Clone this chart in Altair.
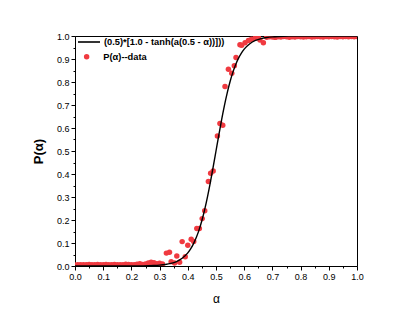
import altair as alt
import pandas as pd

# ---- data ----
low_alpha = [0.00, 0.01, 0.02, 0.03, 0.04, 0.05, 0.06, 0.07, 0.08, 0.09,
             0.10, 0.11, 0.12, 0.13, 0.14, 0.15, 0.16, 0.17, 0.18, 0.19,
             0.20, 0.21, 0.22, 0.23, 0.24, 0.25, 0.26, 0.27, 0.28, 0.29,
             0.30, 0.31]
low_p = [0.004, 0.005, 0.006, 0.005, 0.006, 0.007, 0.006, 0.005, 0.007, 0.006,
         0.006, 0.007, 0.006, 0.005, 0.007, 0.006, 0.005, 0.006, 0.008, 0.007,
         0.006, 0.005, 0.008, 0.010, 0.007, 0.009, 0.013, 0.016, 0.014, 0.010,
         0.012, 0.009]

mid_alpha = [0.324, 0.335, 0.341, 0.353, 0.361, 0.371, 0.380, 0.391, 0.400, 0.412,
             0.421, 0.432, 0.441, 0.451, 0.460, 0.473, 0.481, 0.490, 0.505, 0.514,
             0.524, 0.532, 0.544, 0.556, 0.565, 0.571, 0.585, 0.591, 0.603, 0.615,
             0.626, 0.638, 0.650, 0.656, 0.668]
mid_p = [0.056, 0.060, 0.019, 0.013, 0.043, 0.016, 0.106, 0.040, 0.090, 0.116,
         0.107, 0.163, 0.163, 0.206, 0.240, 0.367, 0.403, 0.413, 0.565, 0.620,
         0.612, 0.780, 0.855, 0.838, 0.871, 0.907, 0.962, 0.960, 0.971, 0.980,
         0.986, 0.990, 0.994, 0.983, 0.971]

high_alpha = [0.68, 0.69, 0.70, 0.71, 0.72, 0.73, 0.74, 0.75, 0.76, 0.77,
              0.78, 0.79, 0.80, 0.81, 0.82, 0.83, 0.84, 0.85, 0.86, 0.87,
              0.88, 0.89, 0.90, 0.91, 0.92, 0.93, 0.94, 0.95, 0.96, 0.97,
              0.98, 0.99, 1.00]
high_p = [0.995, 0.997, 0.996, 0.994, 0.997, 0.996, 0.998, 0.997, 0.995, 0.997,
          0.996, 0.998, 0.997, 0.996, 0.997, 0.998, 0.996, 0.997, 0.998, 0.997,
          0.996, 0.998, 0.997, 0.998, 0.997, 0.996, 0.998, 0.997, 0.998, 0.997,
          0.998, 0.997, 0.998]

curve_alpha = [0.00, 0.10, 0.20, 0.24, 0.26, 0.28, 0.30, 0.32, 0.34, 0.36,
               0.38, 0.40, 0.41, 0.42, 0.43, 0.44, 0.45, 0.46, 0.47, 0.48,
               0.49, 0.50, 0.51, 0.52, 0.53, 0.54, 0.55, 0.56, 0.57, 0.58,
               0.59, 0.60, 0.62, 0.64, 0.66, 0.68, 0.70, 0.72, 0.74, 0.76,
               0.80, 0.90, 1.00]
curve_p = [0.0000, 0.0000, 0.0002, 0.0007, 0.0012, 0.0021, 0.0037, 0.0064, 0.0112, 0.0195,
           0.0336, 0.0573, 0.0745, 0.0963, 0.1235, 0.1571, 0.1978, 0.2460, 0.3015, 0.3635,
           0.4305, 0.5000, 0.5695, 0.6365, 0.6985, 0.7540, 0.8022, 0.8429, 0.8765, 0.9037,
           0.9255, 0.9427, 0.9664, 0.9805, 0.9888, 0.9936, 0.9963, 0.9979, 0.9988, 0.9993,
           0.9998, 1.0000, 1.0000]

curve_label = "(0.5)*[1.0 - tanh(a(0.5 - α))]))"
data_label = "P(α)--data"

major_ticks = [0.0, 0.1, 0.2, 0.3, 0.4, 0.5, 0.6, 0.7, 0.8, 0.9, 1.0]
minor_ticks = [0.05, 0.15, 0.25, 0.35, 0.45, 0.55, 0.65, 0.75, 0.85, 0.95]

RED = "#f03a40"
FONT = "Liberation Sans"

pts = pd.DataFrame({
    "alpha": low_alpha + mid_alpha + high_alpha,
    "p": low_p + mid_p + high_p,
    "s": data_label,
})
curve = pd.DataFrame({"alpha": curve_alpha, "p": curve_p, "s": curve_label})

xs = alt.Scale(domain=[0, 1], nice=False, zero=False)
ys = alt.Scale(domain=[0, 1], nice=False, zero=False)

x_major = alt.Axis(values=major_ticks, format=".1f", tickSize=4, labelFontSize=9,
                   labelPadding=2, title="α", titleFontSize=12, titleFontWeight="normal",
                   titlePadding=12, grid=False, orient="bottom", labelFlush=False)
y_major = alt.Axis(values=major_ticks, format=".1f", tickSize=4, labelFontSize=9,
                   labelPadding=2, title="P(α)", titleFontSize=13, titleFontWeight="bold",
                   titlePadding=11, grid=False, orient="left", labelFlush=False)
x_minor = alt.Axis(values=minor_ticks, tickSize=2, labels=False, domain=False,
                   title=None, grid=False, orient="bottom")
y_minor = alt.Axis(values=minor_ticks, tickSize=2, labels=False, domain=False,
                   title=None, grid=False, orient="left")

points = alt.Chart(pts).mark_circle(size=30, opacity=1, clip=True).encode(
    x=alt.X("alpha:Q", scale=xs, axis=x_major),
    y=alt.Y("p:Q", scale=ys, axis=y_major),
    color=alt.Color("s:N", scale=alt.Scale(domain=[data_label], range=[RED]),
                    legend=alt.Legend(title=None, orient="none", legendX=7, legendY=16,
                                      symbolSize=30, labelOffset=12, labelFontSize=9.3,
                                      labelFontWeight="bold", labelFont=FONT)),
)

line = alt.Chart(curve).mark_line(strokeWidth=1.4, interpolate="monotone", clip=True).encode(
    x=alt.X("alpha:Q", scale=xs, axis=x_minor),
    y=alt.Y("p:Q", scale=ys, axis=y_minor),
    color=alt.Color("s:N", scale=alt.Scale(domain=[curve_label], range=["black"]),
                    legend=alt.Legend(title=None, orient="none", legendX=2, legendY=-6,
                                      symbolType="stroke", symbolSize=484,
                                      symbolStrokeWidth=1.6, labelOffset=3,
                                      labelFontSize=9.3, labelFontWeight="bold",
                                      labelFont=FONT)),
)

chart = alt.layer(points, line).resolve_scale(
    color="independent"
).resolve_axis(
    x="independent", y="independent"
).properties(
    width=282, height=230,
    autosize=alt.AutoSizeParams(type="none"),
    padding={"left": 67, "top": 28, "right": 50, "bottom": 44},
).configure(
    font=FONT,
).configure_view(
    stroke="black", strokeWidth=1,
).configure_axis(
    domainColor="black", tickColor="black", labelColor="black", titleColor="black",
    labelFont=FONT, titleFont=FONT, domainWidth=1, tickWidth=1,
)

chart.save("out.html", embed_options={"renderer": "svg", "actions": False})
